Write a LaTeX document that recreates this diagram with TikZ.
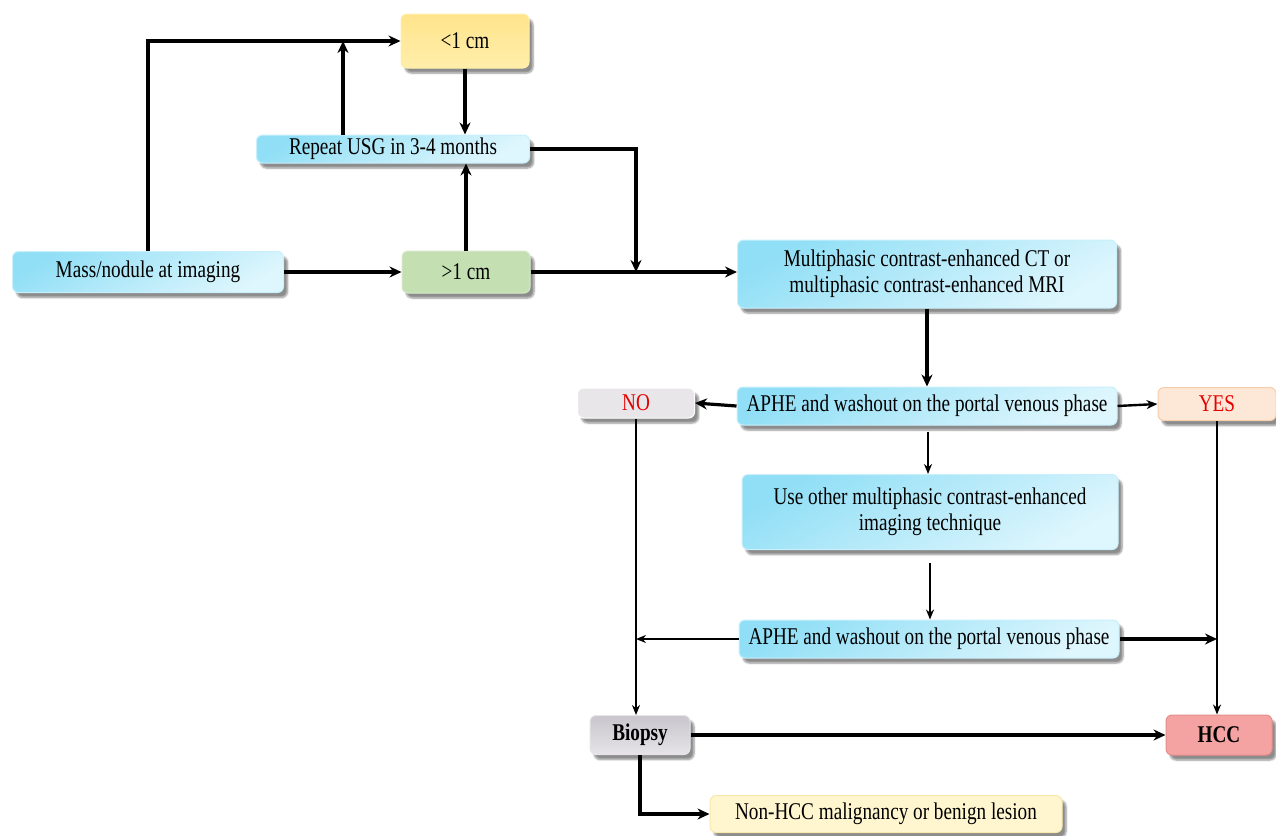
\documentclass[tikz,border=0pt]{standalone}
\usepackage{fontspec}
\setmainfont{Liberation Serif}[FakeStretch=0.8]
\usetikzlibrary{arrows.meta,shadows.blur,calc}
\definecolor{cyanA}{RGB}{145,223,246}
\definecolor{cyanB}{RGB}{222,246,253}
\definecolor{cyanE}{RGB}{200,240,252}
\definecolor{yelA}{RGB}{255,228,140}
\definecolor{yelB}{RGB}{255,238,170}
\definecolor{grnA}{RGB}{196,224,178}
\definecolor{noA}{RGB}{232,230,233}
\definecolor{yesA}{RGB}{253,232,216}
\definecolor{yesE}{RGB}{246,205,170}
\definecolor{bioA}{RGB}{200,197,204}
\definecolor{bioB}{RGB}{230,228,232}
\definecolor{hccA}{RGB}{245,162,162}
\definecolor{hccE}{RGB}{232,140,140}
\definecolor{nonA}{RGB}{255,246,208}
\definecolor{nonE}{RGB}{248,232,170}
\definecolor{redtxt}{RGB}{230,0,0}
\begin{document}
\begin{tikzpicture}[x=1pt,y=-1pt,
  box/.style={rounded corners=6pt, align=center, inner sep=0pt,
    font=\fontsize{24}{26}\selectfont,
    blur shadow={shadow xshift=4pt, shadow yshift=-5pt, shadow blur steps=6, shadow opacity=45}},
  cyanbox/.style={box, draw=cyanE, line width=1pt, top color=cyanA, bottom color=cyanB, shading angle=30},
  yelbox/.style={box, draw=yelB, line width=1pt, top color=yelA, bottom color=yelB},
  grnbox/.style={box, draw=grnA!70!white, line width=1pt, fill=grnA},
  nobox/.style={box, draw=white, line width=1pt, fill=noA, text=redtxt},
  yesbox/.style={box, draw=yesE, line width=1pt, fill=yesA, text=redtxt},
  biobox/.style={box, draw=bioB, line width=1pt, top color=bioA, bottom color=bioB, font=\fontsize{24}{26}\selectfont\bfseries},
  hccbox/.style={box, draw=hccE, line width=1pt, fill=hccA, font=\fontsize{24}{26}\selectfont\bfseries},
  nonbox/.style={box, draw=nonE, line width=1pt, fill=nonA},
  arr/.style={-{Stealth[length=12pt,width=11pt]}, line width=3.2pt},
  marr/.style={-{Stealth[length=11pt,width=9pt]}, line width=2.4pt},
  tarr/.style={-{Stealth[length=10pt,width=8pt]}, line width=1.8pt},
]
\useasboundingbox (0,0) rectangle (1276,835);

\node[yelbox, minimum width=128pt, minimum height=54pt] (lt) at (465,41) {<1 cm};
\node[cyanbox, minimum width=273pt, minimum height=28pt] (rep) at (393,149) {Repeat USG in 3-4 months};
\node[cyanbox, minimum width=271pt, minimum height=41pt] (mass) at (148,272) {Mass/nodule at imaging};
\node[grnbox, minimum width=128pt, minimum height=42pt] (gt) at (466,272) {>1 cm};
\node[cyanbox, minimum width=379pt, minimum height=68pt] (multi) at (927,274) {Multiphasic contrast-enhanced CT or\\multiphasic contrast-enhanced MRI};
\node[cyanbox, minimum width=380pt, minimum height=38pt] (aphe1) at (927,406) {APHE and washout on the portal venous phase};
\node[nobox, minimum width=117pt, minimum height=30pt] (no) at (636,403) {NO};
\node[yesbox, minimum width=118pt, minimum height=33pt] (yes) at (1217,404) {YES};
\node[cyanbox, minimum width=376pt, minimum height=75pt] (other) at (930,512) {Use other multiphasic contrast-enhanced\\imaging technique};
\node[cyanbox, minimum width=380pt, minimum height=38pt] (aphe2) at (929,639) {APHE and washout on the portal venous phase};
\node[biobox, minimum width=100pt, minimum height=39pt] (bio) at (640,735) {Biopsy};
\node[hccbox, minimum width=106pt, minimum height=40pt] (hcc) at (1219,735) {HCC};
\node[nonbox, minimum width=352pt, minimum height=37pt] (non) at (886,814) {Non-HCC malignancy or benign lesion};

\coordinate (j1) at (343,41);
\coordinate (j2) at (636,272);
\coordinate (jno) at (no.south |- aphe2.west);
\coordinate (jyes) at (yes.south |- aphe2.east);

\draw[arr] (mass.north) |- (lt.west);
\draw[arr] (rep.north -| j1) -- (j1);
\draw[arr] (lt.south) -- (rep.north -| lt.south);
\draw[arr] (gt.north) -- (rep.south -| gt.north);
\draw[arr] (rep.east) -| (j2);
\draw[arr] (mass.east) -- (gt.west);
\draw[arr] (gt.east) -- (gt.east -| multi.west);
\draw[arr] (multi.south) -- ++(0,12) -- (aphe1.north);
\draw[arr] (aphe1.west) -- (no.east);
\draw[marr] (aphe1.east) -- (yes.west);
\draw[tarr] ($(aphe1.south)+(1,6)$) -- (other.north -| 928,0);
\draw[tarr] ($(other.south)+(0,13)$) -- (aphe2.north -| 930,0);
\draw[tarr] (aphe2.west) -- (jno);
\draw[arr] (aphe2.east) -- (jyes);
\draw[tarr] (no.south) -- (no.south |- bio.north);
\draw[tarr] (yes.south) -- (yes.south |- hcc.north);
\draw[arr] (bio.east) -- (hcc.west);
\draw[arr] (bio.south) |- (non.west);
\end{tikzpicture}
\end{document}
